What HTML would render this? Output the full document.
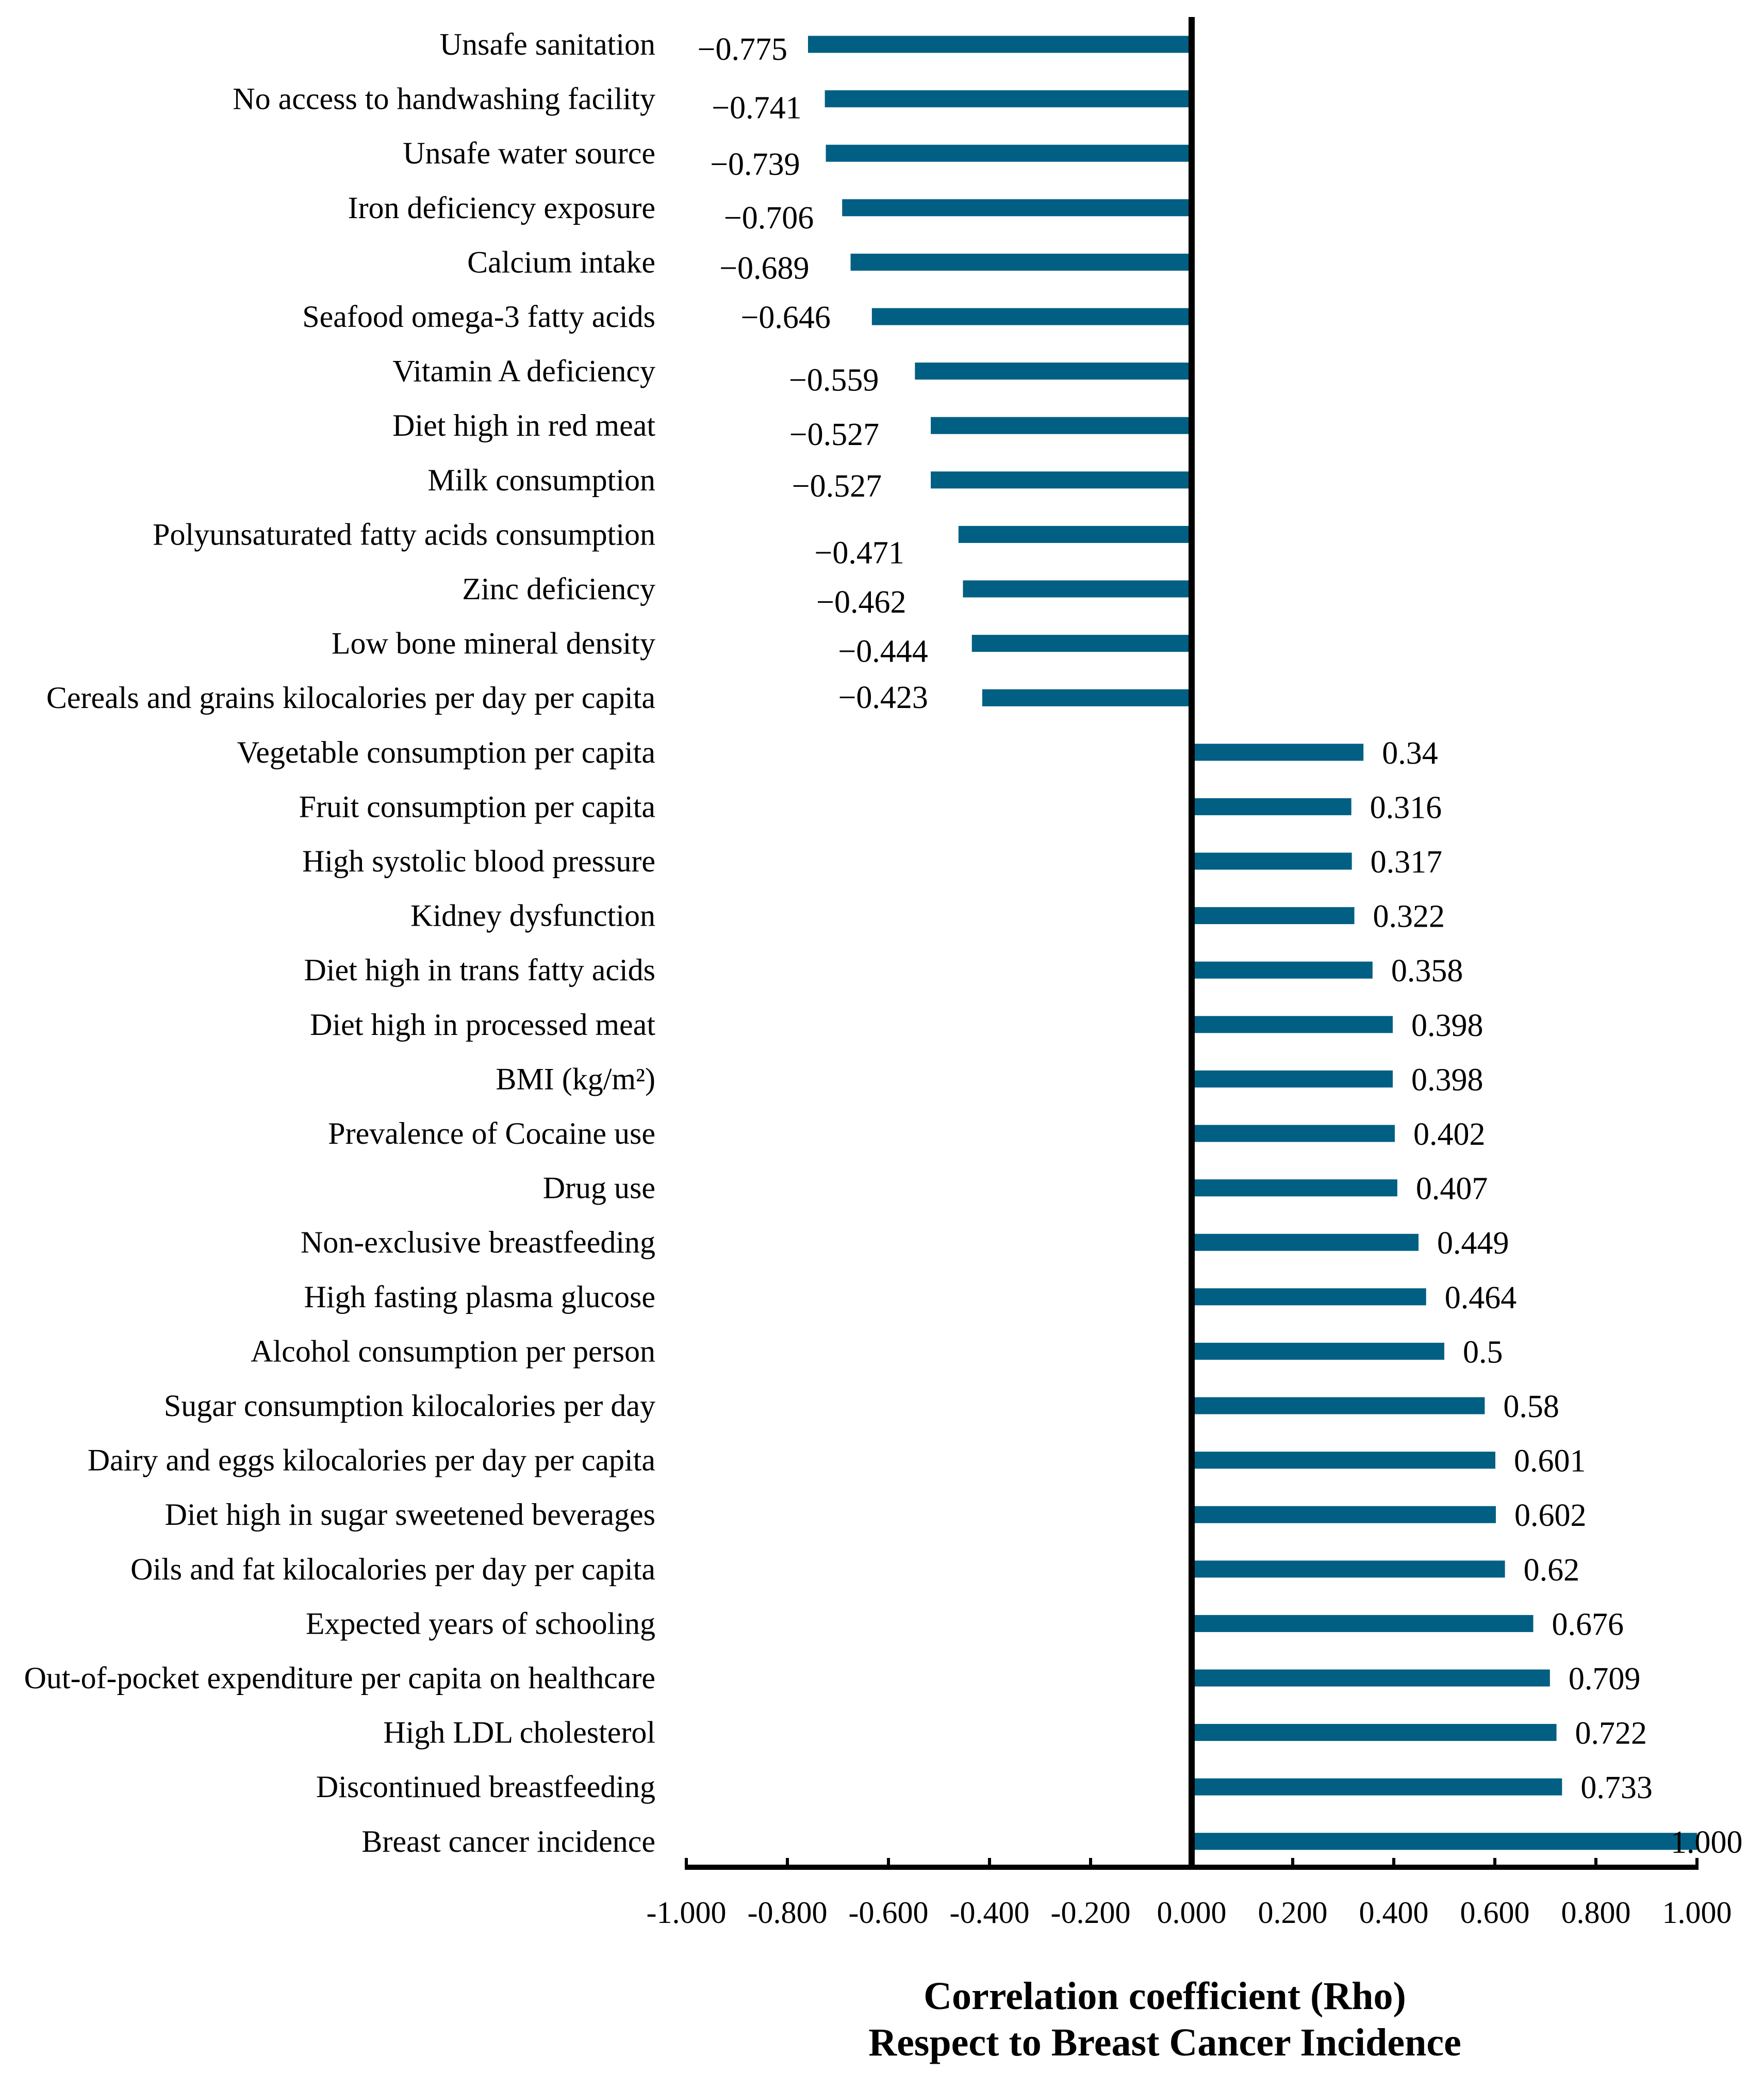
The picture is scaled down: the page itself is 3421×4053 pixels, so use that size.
<!DOCTYPE html>
<html><head><meta charset="utf-8"><style>
html,body{margin:0;padding:0;background:#fff;}
svg{display:block;}
text{font-family:"Liberation Serif",serif;fill:#000;}
</style></head><body>
<svg id="chart" width="3421" height="4053" viewBox="0 0 3421 4053" xmlns="http://www.w3.org/2000/svg">
<g id="bars"></g>
<g id="labels"></g>
<g id="values"></g>
<g id="axes"></g>
<text x="2259" y="3896" text-anchor="middle" font-size="76" font-weight="bold">Correlation coefficient (Rho)</text>
<text x="2259" y="3986" text-anchor="middle" font-size="76" font-weight="bold">Respect to Breast Cancer Incidence</text>
</svg>
<script>
const categories = ["Unsafe sanitation","No access to handwashing facility","Unsafe water source","Iron deficiency exposure","Calcium intake","Seafood omega-3 fatty acids","Vitamin A deficiency","Diet high in red meat","Milk consumption","Polyunsaturated fatty acids consumption","Zinc deficiency","Low bone mineral density","Cereals and grains kilocalories per day per capita","Vegetable consumption per capita","Fruit consumption per capita","High systolic blood pressure","Kidney dysfunction","Diet high in trans fatty acids","Diet high in processed meat","BMI (kg/m²)","Prevalence of Cocaine use","Drug use","Non-exclusive breastfeeding","High fasting plasma glucose","Alcohol consumption per person","Sugar consumption kilocalories per day","Dairy and eggs kilocalories per day per capita","Diet high in sugar sweetened beverages","Oils and fat kilocalories per day per capita","Expected years of schooling","Out-of-pocket expenditure per capita on healthcare","High LDL cholesterol","Discontinued breastfeeding","Breast cancer incidence"];
const values = [-0.775,-0.741,-0.739,-0.706,-0.689,-0.646,-0.559,-0.527,-0.527,-0.471,-0.462,-0.444,-0.423,0.34,0.316,0.317,0.322,0.358,0.398,0.398,0.402,0.407,0.449,0.464,0.5,0.58,0.601,0.602,0.62,0.676,0.709,0.722,0.733,1.000];
const valueText = ["−0.775","−0.741","−0.739","−0.706","−0.689","−0.646","−0.559","−0.527","−0.527","−0.471","−0.462","−0.444","−0.423","0.34","0.316","0.317","0.322","0.358","0.398","0.398","0.402","0.407","0.449","0.464","0.5","0.58","0.601","0.602","0.62","0.676","0.709","0.722","0.733","1.000"];
const tickValues = [-1,-0.8,-0.6,-0.4,-0.2,0,0.2,0.4,0.6,0.8,1];
const tickLabels = ["-1.000","-0.800","-0.600","-0.400","-0.200","0.000","0.200","0.400","0.600","0.800","1.000"];
// layout tweaks for negative value labels (label gap and vertical offset, px)
const negLabelGap = [40,45,50,55,80,80,70,100,95,105,110,85,105];
const negLabelDy = [8,16,20,18,10,0,16,16,10,34,24,14,-2];

const NS="http://www.w3.org/2000/svg";
const X0=2311, UNIT=980, UNIT_NEG=960, Y0=86, PITCH=105.6, BH=33;
const xs = v => X0 + v*(v<0?UNIT_NEG:UNIT);
const xt = v => X0 + v*UNIT;
const ys = i => Y0 + i*PITCH;
function mk(tag, attrs, parent){const e=document.createElementNS(NS,tag);for(const k in attrs)e.setAttribute(k,attrs[k]);parent.appendChild(e);return e;}
const gB=document.getElementById('bars'), gL=document.getElementById('labels'), gV=document.getElementById('values'), gA=document.getElementById('axes');
let ni=0;
categories.forEach((c,i)=>{
  const v=values[i], cy=ys(i);
  let x1, x2;
  if(v<0){x1=xs(v); x2=X0-5;} else {x1=X0+6; x2=xs(v);}
  const r=mk('rect',{x:x1,y:cy-BH/2,width:Math.max(0,x2-x1),height:BH,fill:'#005F83'},gB);
  
  
  const t=mk('text',{x:1271,y:cy+20,'text-anchor':'end','font-size':60},gL);
  t.textContent=c;
  
  
  let vt;
  if(v<0){
    const k=ni++;
    vt=mk('text',{x:x1-negLabelGap[Math.min(k,negLabelGap.length-1)],y:cy+22+negLabelDy[Math.min(k,negLabelDy.length-1)],'text-anchor':'end','font-size':62},gV);
  } else {
    vt=mk('text',{x:Math.min(x2+36,3240),y:cy+22,'text-anchor':'start','font-size':62},gV);
  }
  vt.textContent=valueText[i];
  
  
});
const va=mk('rect',{x:X0-6,y:33,width:12,height:3592,fill:'#000'},gA);


const ha=mk('rect',{x:xt(-1)-3,y:3616,width:xt(1)-xt(-1)+6,height:10,fill:'#000'},gA);


tickValues.forEach((tv,i)=>{
  const tk=mk('rect',{x:xt(tv)-3,y:3603,width:6,height:18,fill:'#000'},gA);
  
  
  const tl=mk('text',{x:xt(tv),y:3729,'text-anchor':'middle','font-size':60},gA);
  tl.textContent=tickLabels[i];
  
  
});
</script>
</body></html>
